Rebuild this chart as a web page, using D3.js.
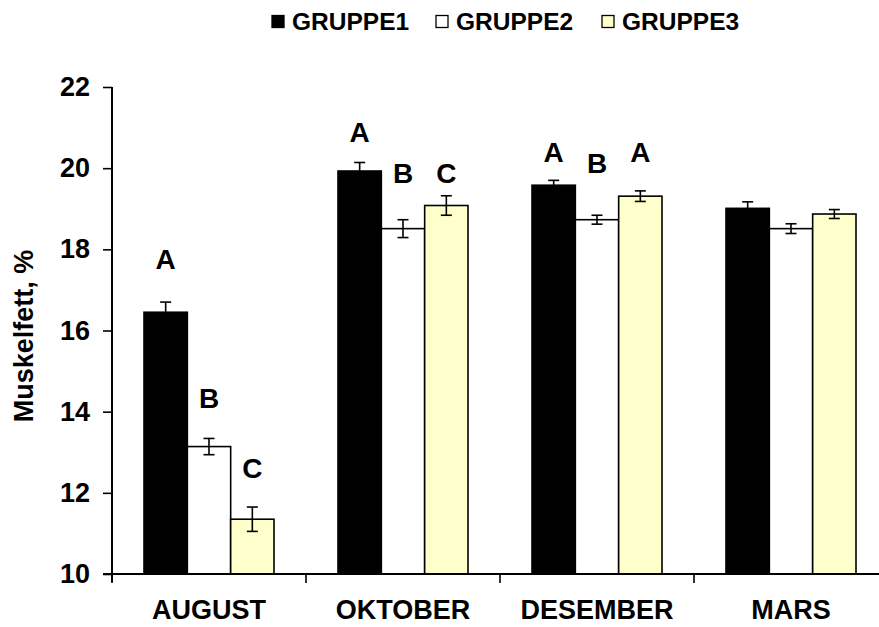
<!DOCTYPE html>
<html>
<head>
<meta charset="utf-8">
<script src="https://cdn.jsdelivr.net/npm/d3@7"></script>
<style>
  body { margin: 0; background: #fff; }
  text { font-family: "Liberation Sans", Arial, sans-serif; font-weight: bold; fill: #000; }
</style>
</head>
<body>
<div id="chart"></div>
<script>
(function() {
  var width = 879, height = 627;

  // data
  var months = ["AUGUST", "OKTOBER", "DESEMBER", "MARS"];
  var groups = ["GRUPPE1", "GRUPPE2", "GRUPPE3"];
  var gruppe1 = [16.45, 19.93, 19.58, 19.01];
  var gruppe2 = [13.14, 18.51, 18.73, 18.51];
  var gruppe3 = [11.35, 19.08, 19.31, 18.87];
  var err1 = [0.25, 0.21, 0.12, 0.16];
  var err2 = [0.2, 0.22, 0.11, 0.12];
  var err3 = [0.3, 0.24, 0.13, 0.11];
  // significance letters and the height (in %) where they sit
  var letters1 = ["A", "A", "A", ""];
  var letters2 = ["B", "B", "B", ""];
  var letters3 = ["C", "C", "A", ""];
  var letterY1 = [17.51, 20.64, 20.16, 0];
  var letterY2 = [14.09, 19.63, 19.87, 0];
  var letterY3 = [12.36, 19.63, 20.16, 0];
  var yTicks = [10, 12, 14, 16, 18, 20, 22];

  var fills = ["#000000", "#ffffff", "#ffffcc"];
  var values = [gruppe1, gruppe2, gruppe3];
  var errs = [err1, err2, err3];
  var letters = [letters1, letters2, letters3];
  var letterYs = [letterY1, letterY2, letterY3];

  var rows = [];
  months.forEach(function(m, i) {
    groups.forEach(function(g, j) {
      rows.push({ month: m, group: g, gi: j, value: values[j][i], err: errs[j][i],
                  letter: letters[j][i], letterY: letterYs[j][i] });
    });
  });

  var svg = d3.select("#chart")
    .append("svg")
    .attr("width", width)
    .attr("height", height);

  var xScale = d3.scaleBand().domain(months).range([112, 888]).padding(0);
  var xInner = d3.scaleBand().domain(groups).range([32, 162]).padding(0);
  var yScale = d3.scaleLinear().domain([10, 22]).range([574, 87]);

  // bars
  var bar = svg.selectAll(".bar")
    .data(rows)
    .enter().append("g")
    .attr("class", "bar")
    .attr("transform", function(d) { return "translate(" + xScale(d.month) + ",0)"; });

  bar.append("rect")
    .attr("x", function(d) { return xInner(d.group); })
    .attr("width", xInner.bandwidth())
    .attr("y", function(d) { return yScale(d.value); })
    .attr("height", function(d) { return yScale(10) - yScale(d.value); })
    .attr("fill", function(d) { return fills[d.gi]; })
    .attr("stroke", "#000")
    .attr("stroke-width", 1.6);

  // error bars
  var cx = function(d) { return xInner(d.group) + xInner.bandwidth() / 2; };
  bar.append("line")
    .attr("x1", cx).attr("x2", cx)
    .attr("y1", function(d) { return yScale(d.value - d.err); })
    .attr("y2", function(d) { return yScale(d.value + d.err); })
    .attr("stroke", "#000")
    .attr("stroke-width", 1.6);
  [-1, 1].forEach(function(s) {
    bar.append("line")
      .attr("x1", function(d) { return cx(d) - 5.5; })
      .attr("x2", function(d) { return cx(d) + 5.5; })
      .attr("y1", function(d) { return yScale(d.value + s * d.err); })
      .attr("y2", function(d) { return yScale(d.value + s * d.err); })
      .attr("stroke", "#000")
      .attr("stroke-width", 1.6)
      .attr("display", function(d) { return (s < 0 && d.gi == 0) ? "none" : null; });
  });

  // letters
  bar.filter(function(d) { return d.letter != ""; })
    .append("text")
    .attr("x", cx)
    .attr("y", function(d) { return yScale(d.letterY); })
    .attr("text-anchor", "middle")
    .attr("font-size", "28px")
    .text(function(d) { return d.letter; });

  // y axis
  var yAxis = d3.axisLeft(yScale).tickValues(yTicks).tickSize(9).tickPadding(13);
  var yg = svg.append("g")
    .attr("class", "axis y-axis")
    .attr("transform", "translate(112,0)")
    .call(yAxis);
  yg.select(".domain").remove();
  yg.append("line").attr("x1", 0).attr("x2", 0).attr("y1", 87).attr("y2", 582)
    .attr("stroke", "#000").attr("stroke-width", 2);
  yg.selectAll(".tick line").attr("stroke", "#000").attr("stroke-width", 1.6);
  yg.selectAll(".tick text")
    .attr("font-size", "27px")
    .attr("font-family", "Liberation Sans, Arial, sans-serif")
    .attr("font-weight", "bold")
    .attr("fill", "#000");

  // x axis
  var xAxis = d3.axisBottom(xScale).tickSize(0).tickPadding(26);
  var xg = svg.append("g")
    .attr("class", "axis x-axis")
    .attr("transform", "translate(0,574)")
    .call(xAxis);
  xg.select(".domain").remove();
  xg.append("line").attr("x1", 103).attr("x2", 888).attr("y1", 0).attr("y2", 0)
    .attr("stroke", "#000").attr("stroke-width", 2);
  xg.selectAll(".sep")
    .data(months)
    .enter().append("line")
    .attr("class", "sep")
    .attr("x1", function(d) { return xScale(d); })
    .attr("x2", function(d) { return xScale(d); })
    .attr("y1", 0).attr("y2", 9)
    .attr("stroke", "#000").attr("stroke-width", 1.6);
  xg.selectAll(".tick text")
    .attr("font-size", "27px")
    .attr("font-family", "Liberation Sans, Arial, sans-serif")
    .attr("font-weight", "bold")
    .attr("fill", "#000")
    .attr("dy", "0.71em");

  // y title
  svg.append("text")
    .attr("transform", "translate(33,336) rotate(-90)")
    .attr("text-anchor", "middle")
    .attr("font-size", "27px")
    .text("Muskelfett, %");

  // legend
  var legendX = [272, 436, 602];
  var legend = svg.selectAll(".legend")
    .data(groups)
    .enter().append("g")
    .attr("class", "legend")
    .attr("transform", function(d, i) { return "translate(" + legendX[i] + ",0)"; });
  legend.append("rect")
    .attr("x", 0).attr("y", 15.5)
    .attr("width", 12).attr("height", 12)
    .attr("fill", function(d, i) { return fills[i]; })
    .attr("stroke", "#000").attr("stroke-width", 1.3);
  legend.append("text")
    .attr("x", 20).attr("y", 30)
    .attr("font-size", "24.5px")
    .text(function(d) { return d; });
})();
</script>
</body>
</html>
